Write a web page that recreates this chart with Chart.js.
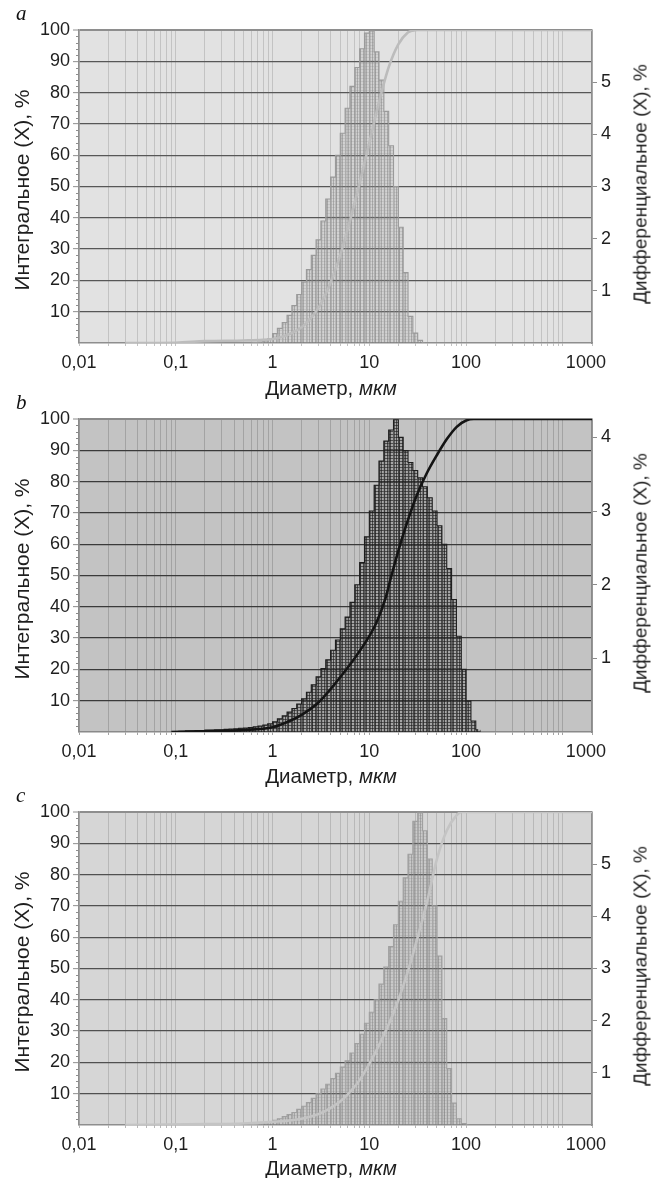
<!DOCTYPE html>
<html>
<head>
<meta charset="utf-8">
<script src="https://cdn.jsdelivr.net/npm/chart.js@4.4.1/dist/chart.umd.min.js"></script>
<style>
html, body { margin:0; padding:0; background:#ffffff; }
body { width:651px; height:1178px; position:relative; overflow:hidden; }
.panel { position:absolute; left:0; width:651px; }
.panel canvas { position:absolute; left:0; top:0; }
.letter { position:absolute; left:16px; font-family:"Liberation Serif","DejaVu Serif",serif; font-style:italic; font-size:21px; line-height:1; color:#111; }
.ytitle, .xtitle { position:absolute; font-family:"Liberation Sans",Arial,sans-serif; line-height:1; color:#1e1e1e; white-space:nowrap; }
.ytitle { transform: translate(-50%,-50%) rotate(-90deg); }
.yl { font-size:21px; }
.yr { font-size:19px; }
.xtitle { font-size:20.5px; transform: translate(-50%,-50%); }
</style>
</head>
<body>
<div class="panel" style="top:0;height:389px;">
  <canvas id="ca" width="651" height="389"></canvas>
  <div class="letter" style="top:3px;">a</div>
  <div class="ytitle yl" style="left:21px;top:190px;">Интегральное (X), %</div>
  <div class="ytitle yr" style="left:640px;top:184px;">Дифференциальное (X), %</div>
  <div class="xtitle" style="left:331px;top:388px;">Диаметр, <i>мкм</i></div>
</div>
<div class="panel" style="top:389px;height:393px;">
  <canvas id="cb" width="651" height="393"></canvas>
  <div class="letter" style="top:3px;">b</div>
  <div class="ytitle yl" style="left:21px;top:190px;">Интегральное (X), %</div>
  <div class="ytitle yr" style="left:640px;top:184px;">Дифференциальное (X), %</div>
  <div class="xtitle" style="left:331px;top:387px;">Диаметр, <i>мкм</i></div>
</div>
<div class="panel" style="top:782px;height:396px;">
  <canvas id="cc" width="651" height="396"></canvas>
  <div class="letter" style="top:3px;">c</div>
  <div class="ytitle yl" style="left:21px;top:190px;">Интегральное (X), %</div>
  <div class="ytitle yr" style="left:640px;top:184px;">Дифференциальное (X), %</div>
  <div class="xtitle" style="left:331px;top:386px;">Диаметр, <i>мкм</i></div>
</div>
<script>
// ---------- data ----------
// size-class edges (µm); bin i spans binEdges[i]..binEdges[i+1]
const binEdges = [
  0.1, 0.112, 0.126, 0.141, 0.158, 0.178, 0.2, 0.224, 0.251, 0.282,
  0.316, 0.355, 0.398, 0.447, 0.501, 0.562, 0.631, 0.708, 0.794, 0.891,
  1, 1.122, 1.259, 1.413, 1.585, 1.778, 1.995, 2.239, 2.512, 2.818,
  3.162, 3.548, 3.981, 4.467, 5.012, 5.623, 6.31, 7.079, 7.943, 8.913,
  10, 11.22, 12.59, 14.13, 15.85, 17.78, 19.95, 22.39, 25.12, 28.18,
  31.62, 35.48, 39.81, 44.67, 50.12, 56.23, 63.1, 70.79, 79.43, 89.13,
  100, 112.2, 125.9, 141.3
];
// differential volume %, one value per size class (right axis)
const diffA = [
  0,0,0,0,0,0,0,0,0,0,0,0,0,0,0,0,
  0.01,0.02,0.04,0.08,
  0.18,0.28,0.39,0.53,0.72,0.93,1.17,1.41,1.68,1.98,
  2.34,2.76,3.18,3.6,4.02,4.5,4.92,5.28,5.64,5.94,
  5.98,5.58,5.04,4.44,3.78,3.0,2.22,1.35,0.51,0.19,
  0.05,
  0,0,0,0,0,0,0,0,0,0,0,0
];
const diffB = [
  0.01,0.01,0.015,0.015,0.02,0.02,0.025,0.025,0.03,0.03,
  0.035,0.04,0.045,0.05,0.055,0.06,0.07,0.08,0.095,0.11,
  0.14,0.18,0.22,0.27,0.32,0.38,0.45,0.54,0.64,0.75,
  0.86,0.98,1.11,1.25,1.4,1.56,1.76,2.0,2.3,2.65,
  3.0,3.35,3.68,3.95,4.1,4.24,4.0,3.82,3.66,3.55,
  3.45,3.33,3.18,3.0,2.8,2.55,2.22,1.8,1.3,0.85,
  0.42,0.15,0.03
];
const diffC = [
  0,0,0,0,0,0,0,0,0,0,0,0,0,0,0,0,
  0.01,0.02,0.04,0.06,
  0.09,0.12,0.16,0.2,0.24,0.3,0.36,0.43,0.51,0.6,
  0.69,0.78,0.89,0.99,1.11,1.23,1.38,1.56,1.74,1.95,
  2.16,2.4,2.7,3.03,3.42,3.84,4.29,4.74,5.19,5.82,
  5.98,5.64,5.1,4.2,3.24,2.04,1.08,0.42,0.12,0.03,
  0,0,0
];
// cumulative (integral) curves, left axis %
const cumDiamA = [0.03,0.1,0.2,0.5,0.8,1,1.26,1.58,2,2.5,3.16,4,5,6.3,7.94,10,12.6,15.8,20,25,28,31.6,2000];
const cumPctA  = [0,0.1,0.6,0.8,1,1.3,2,3.2,5,8,12.5,19.5,28,39,51,64,77,88,95.5,99.2,99.8,100,100];
const cumDiamB = [0.09,0.2,0.5,1,1.5,2,3,5,8,11.7,14.8,16.3,20,24.3,30.8,39,50,63,80,100,120,2000];
const cumPctB  = [0,0.2,0.6,1.5,3.5,5.5,9.5,17.5,26,34.6,43,48,58,66.5,75.5,82.5,88.5,93.5,97.5,99.5,100,100];
const cumDiamC = [0.03,0.2,0.5,1,2,3,4,5,6.3,8,10,12.6,15.8,20,25,31.6,40,50,63,80,90,2000];
const cumPctC  = [0,0.3,0.5,1,2,3.5,5.5,7.5,10.5,14.5,19.5,25.5,32,40,49,60,72,85,94,99,100,100];
// axes
const xMin = 0.01, xMax = 2000;
const xLabelValues = [0.01, 0.1, 1, 10, 100, 1000];
const xLabelTexts  = ['0,01', '0,1', '1', '10', '100', '1000'];
const yLeftTicks = [10,20,30,40,50,60,70,80,90,100];
const yLeftMinorTicks = [2,4,6,8,12,14,16,18,22,24,26,28,32,34,36,38,42,44,46,48,52,54,56,58,62,64,66,68,72,74,76,78,82,84,86,88,92,94,96,98];
const yRightTicksA = [1,2,3,4,5], yRightMaxA = 6;
const yRightTicksB = [1,2,3,4],   yRightMaxB = 4.25;
const yRightTicksC = [1,2,3,4,5], yRightMaxC = 6;

// ---------- rendering ----------
const FONT = '"Liberation Sans", Arial, sans-serif';
const TICK_FONT = { family: FONT, size: 18 };
const TEXT_COLOR = '#1e1e1e';
const xGridValues = [];
for (let e = -2; e <= 3; e++) for (let m = 1; m <= 9; m++) {
  const v = +(m * Math.pow(10, e)).toPrecision(6);
  if (v >= xMin && v <= xMax) xGridValues.push(v);
}
xGridValues.push(2000);

const plotBg = {
  id: 'plotBg',
  beforeDraw(chart, args, opts) {
    const { ctx, chartArea: a } = chart;
    ctx.save(); ctx.fillStyle = opts.color;
    ctx.fillRect(a.left, a.top, a.right - a.left, a.bottom - a.top);
    ctx.restore();
  }
};
// short minor tick marks on the left axis
const minorTicks = {
  id: 'minorTicks',
  afterDraw(chart, args, opts) {
    const sy = chart.scales.y, ctx = chart.ctx;
    const x0 = chart.chartArea.left;
    ctx.save();
    ctx.strokeStyle = opts.color; ctx.lineWidth = 1;
    ctx.beginPath();
    yLeftMinorTicks.forEach(v => {
      const py = Math.round(sy.getPixelForValue(v)) + 0.5;
      ctx.moveTo(x0 - 3, py); ctx.lineTo(x0, py);
    });
    ctx.stroke();
    ctx.restore();
  }
};
// last x label ("1000") sits to the right of its grid line in the original
const edgeLabel = {
  id: 'edgeLabel',
  afterDraw(chart) {
    const sx = chart.scales.x;
    const items = sx.getLabelItems();
    const ref = items.find(it => it.label === xLabelTexts[0]);
    if (!ref) return;
    const idx = xLabelValues.length - 1;
    const ctx = chart.ctx;
    ctx.save();
    ctx.font = '18px ' + FONT;
    ctx.fillStyle = TEXT_COLOR;
    ctx.textAlign = 'left';
    ctx.textBaseline = ref.options.textBaseline;
    ctx.fillText(xLabelTexts[idx], sx.getPixelForValue(xLabelValues[idx]) + 3,
                 ref.options.translation[1] + (ref.textOffset || 0));
    ctx.restore();
  }
};

function makeTile(t) {
  const c = document.createElement('canvas');
  c.width = t.size; c.height = t.size;
  const g = c.getContext('2d');
  g.fillStyle = t.bg; g.fillRect(0, 0, t.size, t.size);
  g.fillStyle = t.h; g.fillRect(0, 0, t.size, 1);
  g.fillStyle = t.v; g.fillRect(0, 0, 1, t.size);
  return c;
}

function buildChart(id, cfg) {
  const canvas = document.getElementById(id);
  const ctx = canvas.getContext('2d');
  const pattern = ctx.createPattern(makeTile(cfg.tile), 'repeat');
  const bars = [];
  let first = -1, last = -1;
  cfg.diff.forEach((v, i) => {
    if (v > 0) {
      bars.push({ x: Math.sqrt(binEdges[i] * binEdges[i + 1]), y: v });
      if (first < 0) first = i; last = i;
    }
  });
  const center = i => Math.sqrt(binEdges[i] * binEdges[i + 1]);
  const outline = [{ x: center(first - 1), y: 0 }].concat(bars, [{ x: center(last + 1), y: 0 }]);
  const cum = cfg.cumX.map((x, i) => ({ x, y: cfg.cumY[i] }));
  const st = cfg.style;

  new Chart(ctx, {
    type: 'bar',
    data: {
      datasets: [
        { type: 'line', data: cum, xAxisID: 'x', yAxisID: 'y', borderColor: st.cum, borderWidth: 2.6,
          pointRadius: 0, cubicInterpolationMode: 'monotone', fill: false, order: 0 },
        { type: 'line', data: outline, xAxisID: 'x', yAxisID: 'y2', borderColor: st.outline, borderWidth: 1.1,
          pointRadius: 0, stepped: 'middle', fill: false, order: 1 },
        { type: 'bar', data: bars, xAxisID: 'x', yAxisID: 'y2', backgroundColor: pattern,
          borderColor: st.sep, borderWidth: { left: 1, top: 0, right: 0, bottom: 0 }, borderSkipped: false,
          barThickness: 'flex', categoryPercentage: 1, barPercentage: 1, order: 2 }
      ]
    },
    options: {
      responsive: false, animation: false, devicePixelRatio: 1, events: [],
      layout: { padding: { top: 30, left: 0, right: 0, bottom: 0 } },
      plugins: { legend: { display: false }, tooltip: { enabled: false },
                 plotBg: { color: st.bg }, minorTicks: { color: st.frame } },
      scales: {
        x: {
          type: 'logarithmic', position: 'bottom', min: xMin, max: xMax, offset: false,
          afterBuildTicks: s => { s.ticks = xGridValues.map(v => ({ value: v })); },
          afterFit: s => { s.height = cfg.xHeight; },
          ticks: {
            autoSkip: false, maxRotation: 0, minRotation: 0, padding: 6, font: TICK_FONT, color: TEXT_COLOR,
            callback: v => {
              const i = xLabelValues.indexOf(v);
              return (i < 0 || i === xLabelValues.length - 1) ? '' : xLabelTexts[i];
            }
          },
          grid: { offset: false, color: st.vGrid, lineWidth: 1, drawTicks: true, tickLength: 3, tickColor: st.vGrid },
          border: { display: true, color: st.frame, width: 1.5 }
        },
        y: {
          type: 'linear', position: 'left', min: 0, max: 100,
          afterBuildTicks: s => { s.ticks = yLeftTicks.map(v => ({ value: v })); },
          afterFit: s => { s.width = 79; },
          ticks: { font: TICK_FONT, color: TEXT_COLOR, padding: 3 },
          grid: {
            color: c => (c.tick && c.tick.value === 100) ? st.frame : st.hGrid,
            lineWidth: c => (c.tick && c.tick.value === 100) ? 2 : 1.3,
            drawTicks: true, tickLength: 6, tickColor: st.frame, tickWidth: 1
          },
          border: { display: true, color: st.frame, width: 1.5 }
        },
        y2: {
          type: 'linear', position: 'right', min: 0, max: cfg.y2Max,
          afterBuildTicks: s => { s.ticks = cfg.y2Ticks.map(v => ({ value: v })); },
          afterFit: s => { s.width = 651 - 592; },
          ticks: { font: TICK_FONT, color: TEXT_COLOR, padding: 4 },
          grid: { drawOnChartArea: false, drawTicks: true, tickLength: 5, tickColor: st.frame, tickWidth: 1 },
          border: { display: true, color: st.frame, width: 1.5 }
        }
      }
    },
    plugins: [plotBg, minorTicks, edgeLabel]
  });
}

const lightTile = { size: 3, bg: 'rgba(150,150,150,0.20)', v: 'rgba(120,120,120,0.45)', h: 'rgba(130,130,130,0.22)' };
buildChart('ca', {
  diff: diffA, cumX: cumDiamA, cumY: cumPctA, y2Ticks: yRightTicksA, y2Max: yRightMaxA, xHeight: 46,
  tile: lightTile,
  style: { bg: '#e2e2e2', hGrid: '#575757', vGrid: '#c3c3c3', frame: '#8e8e8e', outline: '#9a9a9a',
           sep: 'rgba(140,140,140,0.55)', cum: '#bcbcbc' }
});
buildChart('cb', {
  diff: diffB, cumX: cumDiamB, cumY: cumPctB, y2Ticks: yRightTicksB, y2Max: yRightMaxB, xHeight: 50,
  tile: { size: 3, bg: 'rgba(70,70,70,0.22)', v: 'rgba(25,25,25,0.65)', h: 'rgba(25,25,25,0.6)' },
  style: { bg: '#c3c3c3', hGrid: '#3a3a3a', vGrid: '#a3a3a3', frame: '#8a8a8a', outline: '#1e1e1e',
           sep: 'rgba(30,30,30,0.7)', cum: '#141414' }
});
buildChart('cc', {
  diff: diffC, cumX: cumDiamC, cumY: cumPctC, y2Ticks: yRightTicksC, y2Max: yRightMaxC, xHeight: 53,
  tile: lightTile,
  style: { bg: '#d6d6d6', hGrid: '#505050', vGrid: '#b8b8b8', frame: '#8e8e8e', outline: '#a0a0a0',
           sep: 'rgba(140,140,140,0.55)', cum: '#c4c4c4' }
});
</script>
</body>
</html>
